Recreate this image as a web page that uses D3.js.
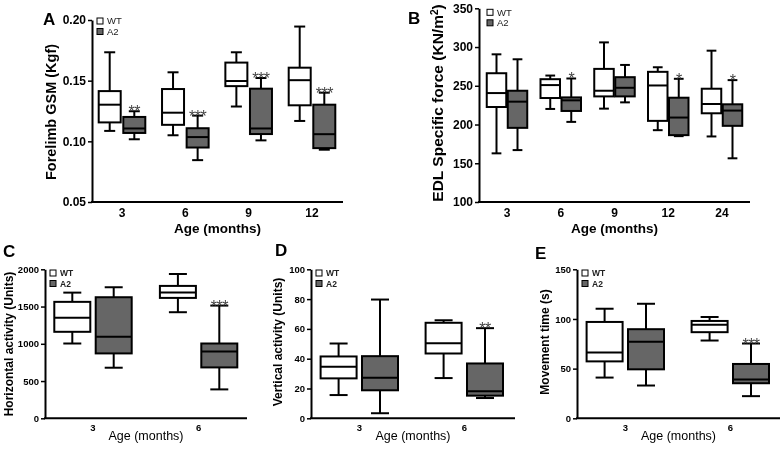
<!DOCTYPE html>
<html>
<head>
<meta charset="utf-8">
<script src="https://cdn.jsdelivr.net/npm/d3@7"></script>
<style>
  body { margin: 0; background: #fff; }
  text { font-family: Arial, "Liberation Sans", sans-serif; }
  svg { filter: grayscale(1); }
</style>
</head>
<body>
<div id="chart"></div>
<script>
// each box: [min, q1, median, q3, max]
const groupsA = ["3", "6", "9", "12"];
const wtA = [[0.1086, 0.1156, 0.1302, 0.1414, 0.1734], [0.105, 0.1136, 0.1236, 0.1431, 0.1569],
             [0.1287, 0.1455, 0.1497, 0.1649, 0.1734], [0.1168, 0.1297, 0.1504, 0.1607, 0.1946]];
const a2A = [[0.1017, 0.1069, 0.1106, 0.1201, 0.1248], [0.0845, 0.0949, 0.1035, 0.1108, 0.1212],
             [0.1008, 0.106, 0.1106, 0.1434, 0.1522], [0.0931, 0.0944, 0.1059, 0.1302, 0.1401]];
const sigA = ["**", "***", "***", "***"];
const ticksA = [0.05, 0.10, 0.15, 0.20];

const groupsB = ["3", "6", "9", "12", "24"];
const wtB = [[162.8, 222.6, 240.6, 266.2, 290.6], [220.1, 234.2, 250.9, 258.5, 263.2],
             [220.5, 236.3, 243.6, 271.8, 306], [192.7, 204.7, 250.4, 268, 273.9],
             [184.6, 214.5, 226.5, 246.2, 295.3]];
const a2B = [[167, 195.7, 229.5, 243.6, 284.2], [203.4, 217.5, 231.2, 235, 259.4],
             [228.6, 236.3, 247.4, 261.1, 276.9], [185, 186.3, 209, 234.6, 259],
             [156.4, 198.3, 218, 226.1, 257.3]];
const sigB = ["", "*", "", "*", "*"];
const ticksB = [100, 150, 200, 250, 300, 350];

const groupsCDE = ["3", "6"];
const wtC = [[1004, 1161, 1348, 1563, 1687], [1424, 1616, 1687, 1777, 1937]];
const a2C = [[679, 871, 1094, 1625, 1759], [388, 683, 897, 1004, 1513]];
const sigC = ["", "***"];
const ticksC = [0, 500, 1000, 1500, 2000];

const wtD = [[15.6, 26.8, 34.6, 41.5, 50.2], [27, 43.5, 50.4, 64.1, 65.8]];
const a2D = [[3.4, 18.8, 27.2, 41.7, 79.7], [13.6, 15.2, 18.1, 36.8, 60.5]];
const sigD = ["", "**"];
const ticksD = [0, 20, 40, 60, 80, 100];

const wtE = [[41, 57.3, 66.3, 97, 110.3], [78.3, 86.7, 94.3, 98, 102]];
const a2E = [[33, 49.3, 77, 89.7, 115.3], [22.3, 35.3, 39, 54.7, 75.3]];
const sigE = ["", "***"];
const ticksE = [0, 50, 100, 150];

const seriesNames = ["WT", "A2"];
const fills = ["#fff", "#666"];

const svg = d3.select("#chart").append("svg")
  .attr("width", 782).attr("height", 449);

const panels = [
  { letter: "A", letterX: 43, letterY: 25, groups: groupsA, wt: wtA, a2: a2A, sig: sigA, ticks: ticksA,
    fmt: d3.format(".2f"), ylabel: "Forelimb GSM (Kgf)", ylabelSize: 14.5, ylabelX: 56, ylabelY: 112,
    axisX: 92, axisEnd: 343, top: 20, bottom: 202, c0: 122, c1: 312, boxW: 22, off: 12.3,
    tickSize: 12, xTickY: 217, xlabelY: 233, xlabelSize: 13.5, xlabelBold: true,
    legX: 97, legY: 18, legFont: 9.5, legBold: false },
  { letter: "B", letterX: 408, letterY: 24, groups: groupsB, wt: wtB, a2: a2B, sig: sigB, ticks: ticksB,
    fmt: d3.format("d"), ylabel: "EDL Specific force (KN/m", sup: "2", ylabelSize: 15.5, ylabelX: 443, ylabelY: 103,
    axisX: 479, axisEnd: 750, top: 8.3, bottom: 202, c0: 507, c1: 722, boxW: 19.5, off: 10.5,
    tickSize: 12, xTickY: 217, xlabelY: 233, xlabelSize: 13.5, xlabelBold: true,
    legX: 487, legY: 9.3, legFont: 9.5, legBold: false },
  { letter: "C", letterX: 3, letterY: 257, groups: groupsCDE, wt: wtC, a2: a2C, sig: sigC, ticks: ticksC,
    fmt: d3.format("d"), ylabel: "Horizontal activity (Units)", ylabelSize: 12, ylabelX: 12.5, ylabelY: 344,
    axisX: 45, axisEnd: 247, top: 269.3, bottom: 418.3, c0: 93, c1: 198.6, boxW: 36, off: 20.7,
    tickSize: 9.5, xTickY: 431, xlabelY: 440, xlabelSize: 12.5, xlabelBold: false,
    legX: 50, legY: 270, legFont: 8.5, legBold: true },
  { letter: "D", letterX: 275, letterY: 256, groups: groupsCDE, wt: wtD, a2: a2D, sig: sigD, ticks: ticksD,
    fmt: d3.format("d"), ylabel: "Vertical activity (Units)", ylabelSize: 12, ylabelX: 282, ylabelY: 342,
    axisX: 311, axisEnd: 515, top: 269.3, bottom: 418.3, c0: 359.3, c1: 464.3, boxW: 36, off: 20.7,
    tickSize: 9.5, xTickY: 431, xlabelY: 440, xlabelSize: 12.5, xlabelBold: false,
    legX: 316, legY: 270, legFont: 8.5, legBold: true },
  { letter: "E", letterX: 535, letterY: 259, groups: groupsCDE, wt: wtE, a2: a2E, sig: sigE, ticks: ticksE,
    fmt: d3.format("d"), ylabel: "Movement time (s)", ylabelSize: 12, ylabelX: 549, ylabelY: 342,
    axisX: 577, axisEnd: 780, top: 269.3, bottom: 418.3, c0: 625.3, c1: 730.3, boxW: 36, off: 20.7,
    tickSize: 9.5, xTickY: 431, xlabelY: 440, xlabelSize: 12.5, xlabelBold: false,
    legX: 582, legY: 270, legFont: 8.5, legBold: true }
];

panels.forEach(p => {
  const g = svg.append("g");

  const x = d3.scalePoint().domain(p.groups).range([p.c0, p.c1]);
  const y = d3.scaleLinear()
    .domain([p.ticks[0], p.ticks[p.ticks.length - 1]])
    .range([p.bottom, p.top]);

  // y axis
  const yAxis = g.append("g")
    .attr("transform", `translate(${p.axisX},0)`)
    .call(d3.axisLeft(y).tickValues(p.ticks).tickFormat(p.fmt).tickSize(4).tickSizeOuter(0).tickPadding(2));
  yAxis.select(".domain").attr("stroke-width", 2);
  yAxis.selectAll(".tick line").attr("stroke-width", 1.5);
  yAxis.selectAll("text")
    .attr("font-size", p.tickSize).attr("font-weight", "bold")
    .attr("font-family", "Arial, 'Liberation Sans', sans-serif").attr("fill", "#000");

  // x axis line + labels
  g.append("line")
    .attr("x1", p.axisX - 1).attr("x2", p.axisEnd)
    .attr("y1", p.bottom).attr("y2", p.bottom)
    .attr("stroke", "#000").attr("stroke-width", 2);

  g.selectAll(".xt").data(p.groups).join("text")
    .attr("x", d => x(d)).attr("y", p.xTickY)
    .attr("text-anchor", "middle")
    .attr("font-size", p.tickSize).attr("font-weight", "bold")
    .text(d => d);

  g.append("text")
    .attr("x", (p.axisX + p.axisEnd) / 2).attr("y", p.xlabelY)
    .attr("text-anchor", "middle")
    .attr("font-size", p.xlabelSize)
    .attr("font-weight", p.xlabelBold ? "bold" : "normal")
    .text("Age (months)");

  // y label
  const yl = g.append("text")
    .attr("transform", `translate(${p.ylabelX},${p.ylabelY}) rotate(-90)`)
    .attr("text-anchor", "middle")
    .attr("font-size", p.ylabelSize).attr("font-weight", "bold")
    .text(p.ylabel);
  if (p.sup) {
    yl.append("tspan").attr("baseline-shift", "super").attr("font-size", p.ylabelSize * 0.65).text(p.sup);
    yl.append("tspan").text(")");
  }

  // panel letter
  g.append("text")
    .attr("x", p.letterX).attr("y", p.letterY)
    .attr("font-size", 17).attr("font-weight", "bold")
    .text(p.letter);

  // boxes
  [p.wt, p.a2].forEach((series, si) => {
    series.forEach((b, i) => {
      const cx = x(p.groups[i]) + (si === 0 ? -p.off : p.off);
      const bg = g.append("g");
      bg.append("line")
        .attr("x1", cx).attr("x2", cx).attr("y1", y(b[0])).attr("y2", y(b[4]))
        .attr("stroke", "#000").attr("stroke-width", 2);
      [b[0], b[4]].forEach(v => {
        bg.append("line")
          .attr("x1", cx - p.boxW / 4).attr("x2", cx + p.boxW / 4)
          .attr("y1", y(v)).attr("y2", y(v))
          .attr("stroke", "#000").attr("stroke-width", 2);
      });
      bg.append("rect")
        .attr("x", cx - p.boxW / 2).attr("width", p.boxW)
        .attr("y", y(b[3])).attr("height", y(b[1]) - y(b[3]))
        .attr("fill", fills[si]).attr("stroke", "#000").attr("stroke-width", 2);
      bg.append("line")
        .attr("x1", cx - p.boxW / 2).attr("x2", cx + p.boxW / 2)
        .attr("y1", y(b[2])).attr("y2", y(b[2]))
        .attr("stroke", "#000").attr("stroke-width", 2);
    });
  });

  // significance stars
  p.sig.forEach((s, i) => {
    if (!s) return;
    g.append("text")
      .attr("x", x(p.groups[i]) + p.off)
      .attr("y", y(p.a2[i][4]) + 6)
      .attr("text-anchor", "middle")
      .attr("font-size", 16)
      .attr("letter-spacing", -0.5)
      .attr("fill", "#444")
      .text(s);
  });

  // legend
  seriesNames.forEach((name, i) => {
    const ly = p.legY + i * 10.5;
    g.append("rect")
      .attr("x", p.legX).attr("y", ly).attr("width", 6).attr("height", 6)
      .attr("fill", fills[i]).attr("stroke", "#000").attr("stroke-width", 1);
    g.append("text")
      .attr("x", p.legX + 10).attr("y", ly + 6.3)
      .attr("font-size", p.legFont)
      .attr("font-weight", p.legBold ? "bold" : "normal")
      .attr("fill", "#222")
      .text(name);
  });
});
</script>
</body>
</html>
